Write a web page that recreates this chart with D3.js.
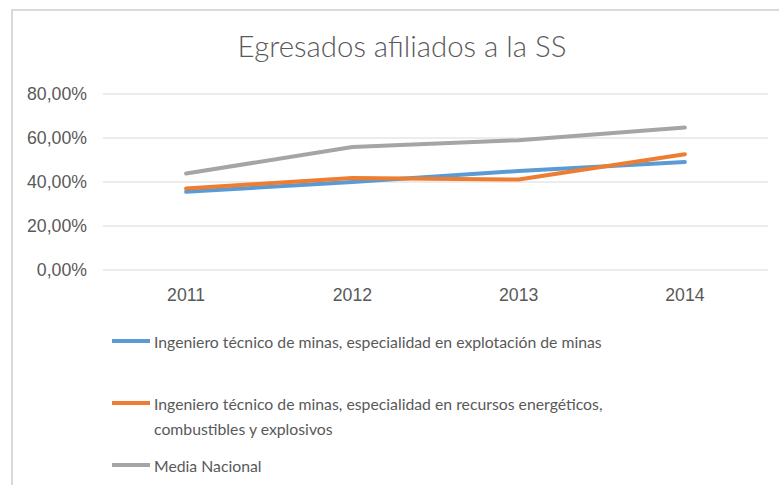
<!DOCTYPE html>
<html>
<head>
<meta charset="utf-8">
<script src="https://cdn.jsdelivr.net/npm/d3@7"></script>
<style>
  body { margin: 0; background: #fff; }
  svg { font-family: Lato, "Open Sans", sans-serif; }
</style>
</head>
<body>
<svg id="chart" width="779" height="485"></svg>
<script>
// chart data
const years = ["2011", "2012", "2013", "2014"];
const explotacion = [0.353, 0.398, 0.448, 0.489];
const recursos = [0.368, 0.416, 0.409, 0.524];
const mediaNacional = [0.436, 0.557, 0.588, 0.645];
const seriesNames = [
    ["Ingeniero técnico de minas, especialidad en explotación de minas"],
    ["Ingeniero técnico de minas, especialidad en recursos energéticos,", "combustibles y explosivos"],
    ["Media Nacional"]
];
const colors = ["#5b9bd5", "#ed7d31", "#a5a5a5"];
const yTicks = [0, 0.2, 0.4, 0.6, 0.8];

const series = [explotacion, recursos, mediaNacional];

const svg = d3.select("#chart");

// scale a text's font so its width matches what the picture shows
function fitWidth(node, target) {
    const s = d3.select(node);
    const fs = parseFloat(s.attr("font-size"));
    const w = node.getComputedTextLength();
    s.attr("font-size", (fs * target / w).toFixed(2));
}

// outer frame
svg.append("rect")
    .attr("x", 12).attr("y", 10)
    .attr("width", 800).attr("height", 500)
    .attr("fill", "#fff")
    .attr("stroke", "#d9d9d9")
    .attr("stroke-width", 2);

const title = svg.append("text")
    .attr("x", 402).attr("y", 57)
    .attr("text-anchor", "middle")
    .attr("font-size", 24)
    .attr("font-weight", 300)
    .attr("fill", "#595959")
    .text("Egresados afiliados a la SS");
fitWidth(title.node(), 329);

const x = d3.scaleBand().domain(years).range([103, 768]);
const y = d3.scaleLinear().domain([0, 0.8]).range([269.5, 93.5]);

const fmt = v => d3.format(".2f")(v * 100).replace(".", ",") + "%";

// grid lines
const yAxis = svg.append("g")
    .attr("transform", "translate(103,0)")
    .call(d3.axisLeft(y).tickValues(yTicks).tickFormat(fmt).tickSize(-665).tickPadding(16));
yAxis.select(".domain").remove();
yAxis.selectAll(".tick line").attr("stroke", "#d9d9d9");
yAxis.selectAll(".tick text")
    .attr("fill", "#595959")
    .attr("font-size", 15)
    .attr("font-family", null);
const ySize = (() => { const n = yAxis.select(".tick:last-of-type text").node(); fitWidth(n, 60); return d3.select(n).attr("font-size"); })();
yAxis.selectAll(".tick text").attr("font-size", ySize);

const xAxis = svg.append("g")
    .attr("transform", "translate(0,269.5)")
    .call(d3.axisBottom(x).tickSize(0).tickPadding(19));
xAxis.select(".domain").remove();
xAxis.selectAll(".tick text")
    .attr("fill", "#595959")
    .attr("font-size", ySize)
    .attr("font-family", null);

const line = d3.line()
    .x((d, i) => x(years[i]) + x.bandwidth() / 2)
    .y(d => y(d));

svg.append("g").selectAll("path")
    .data(series)
    .join("path")
    .attr("d", line)
    .attr("fill", "none")
    .attr("stroke", (d, i) => colors[i])
    .attr("stroke-width", 4)
    .attr("stroke-linejoin", "round")
    .attr("stroke-linecap", "round");

// legend
const legendY = [341, 403, 465];
const lg = svg.append("g").selectAll("g")
    .data(seriesNames)
    .join("g")
    .attr("transform", (d, i) => `translate(112,${legendY[i]})`);
lg.append("line")
    .attr("x1", 0).attr("x2", 38)
    .attr("stroke", (d, i) => colors[i])
    .attr("stroke-width", 4);
const lt = lg.append("text")
    .attr("x", 42)
    .attr("font-size", 15)
    .attr("fill", "#595959");
lt.selectAll("tspan")
    .data(d => d)
    .join("tspan")
    .attr("x", 42)
    .attr("dy", (d, i) => i === 0 ? "0.42em" : 25)
    .text(d => d);
// fit on the first entry, then use that size for all
const first = lt.filter((d, i) => i === 0).node();
fitWidth(first, 448);
lt.attr("font-size", d3.select(first).attr("font-size"));
</script>
</body>
</html>
